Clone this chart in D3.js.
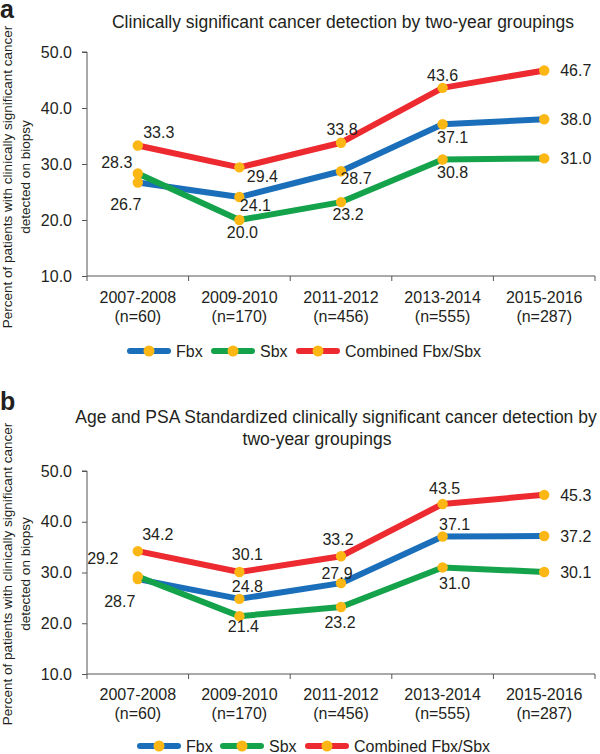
<!DOCTYPE html>
<html><head><meta charset="utf-8">
<script src="https://cdn.jsdelivr.net/npm/d3@7/dist/d3.min.js"></script>
<style>body{margin:0;background:#fff}svg{display:block;font-family:"Liberation Sans",Arial,sans-serif}</style>
</head><body><svg id="chart" width="600" height="754"></svg>
<script>
// ---- data ----
const categories = ["2007-2008","2009-2010","2011-2012","2013-2014","2015-2016"];
const sampleSizes = ["(n=60)","(n=170)","(n=456)","(n=555)","(n=287)"];
const yTicks = [10,20,30,40,50];
const seriesNames = ["Fbx","Sbx","Combined Fbx/Sbx"];
const fbxA = [26.7,24.1,28.7,37.1,38.0];
const sbxA = [28.3,20.0,23.2,30.8,31.0];
const combA = [33.3,29.4,33.8,43.6,46.7];
const fbxB = [28.7,24.8,27.9,37.1,37.2];
const sbxB = [29.2,21.4,23.2,31.0,30.1];
const combB = [34.2,30.1,33.2,43.5,45.3];
const titleA = ["Clinically significant cancer detection by two-year groupings"];
const titleB = ["Age and PSA Standardized clinically significant cancer detection by","two-year groupings"];
const yTitle = ["Percent of patients with clinically significant cancer","detected on biopsy"];

// ---- styles / layout ----
const colors = ["#1b6fba","#14a24a","#ec2a2f"];
const markerColor = "#fdb714";
const textColor = "#231f20";
const axisColor = "#555";
const FS = 16;         // tick / label font size
const FT = 17.5;       // title font size
const CAP = FS*0.358;  // baseline offset to vertical center

// label offsets (dx, dy of label center relative to point), per series, per category
const offsA = [
  [[-12,22],[16,8],[15,7],[10,13],["r",0]],
  [[-21,-11],[3,12],[7,12],[10,13],["r",0]],
  [[21,-13],[23,9],[1,-13],[0,-13],["r",0]]
];
const offsB = [
  [[-18,22],[8,-13],[-4,-10],[12,-12],["r",0]],
  [[-35,-18],[4,10],[-1,15],[12,16],["r",0]],
  [[20,-17],[8,-18],[-3,-17],[2,-16],["r",0]]
];

const svg = d3.select("#chart");

function drawPanel(o){
  const g = svg.append("g");
  const x = d3.scaleBand().domain(categories).range([87,595]);
  const y = d3.scaleLinear().domain([10,50]).range([o.yBottom,o.yTop]);

  // panel letter
  g.append("text").attr("x",0).attr("y",o.letterY).attr("font-size",25).attr("font-weight","bold")
    .attr("fill",textColor).text(o.letter);

  // title
  o.title.forEach((t,i)=>{
    g.append("text").attr("x",o.titleX[i]).attr("y",o.titleY+i*22).attr("text-anchor","middle")
      .attr("font-size",FT).attr("fill",textColor).text(t);
  });

  // y axis
  const ya = g.append("g").attr("transform","translate(87,0)")
    .call(d3.axisLeft(y).tickValues(yTicks).tickFormat(d3.format(".1f")).tickSize(5).tickPadding(10));
  ya.select(".domain").attr("stroke",axisColor).attr("d",`M-5,${y(50)}H0V${y(10)}`);
  ya.selectAll(".tick line").attr("stroke",axisColor);
  ya.selectAll(".tick text").attr("font-size",FS).attr("fill",textColor).attr("font-family","Liberation Sans, Arial, sans-serif");

  // x axis
  const xa = g.append("g").attr("transform",`translate(0,${o.yBottom})`)
    .call(d3.axisBottom(x).tickSize(0).tickFormat(""));
  xa.select(".domain").attr("stroke",axisColor).attr("d",`M87,0H595`);
  const bounds = d3.range(categories.length+1).map(i=>87 + i*x.step());
  xa.selectAll(".bt").data(bounds).join("line").attr("x1",d=>d).attr("x2",d=>d).attr("y1",0).attr("y2",5).attr("stroke",axisColor);
  categories.forEach((c,i)=>{
    const cx = x(c)+x.bandwidth()/2;
    g.append("text").attr("x",cx).attr("y",o.catY).attr("text-anchor","middle").attr("font-size",FS).attr("fill",textColor).text(c);
    g.append("text").attr("x",cx).attr("y",o.catY+19).attr("text-anchor","middle").attr("font-size",FS).attr("fill",textColor).text(sampleSizes[i]);
  });

  // y title
  yTitle.forEach((t,i)=>{
    g.append("text").attr("transform",`translate(${12+i*18},${o.yTitleY}) rotate(-90)`).attr("text-anchor","middle")
      .attr("font-size",13.5).attr("fill",textColor).text(t);
  });

  // series
  const cxF = i=>x(categories[i])+x.bandwidth()/2;
  o.series.forEach((vals,s)=>{
    const line = d3.line().x((d,i)=>cxF(i)).y(d=>y(d));
    g.append("path").datum(vals).attr("d",line).attr("fill","none").attr("stroke",colors[s])
      .attr("stroke-width",6).attr("stroke-linejoin","round");
    g.selectAll(null).data(vals).join("circle").attr("cx",(d,i)=>cxF(i)).attr("cy",d=>y(d)).attr("r",5.2).attr("fill",markerColor);
  });
  o.series.forEach((vals,s)=>{
    vals.forEach((v,i)=>{
      const off = o.offs[s][i];
      const px = cxF(i), py = y(v);
      const t = g.append("text").attr("font-size",FS).attr("fill",textColor).text(d3.format(".1f")(v));
      if(off[0]==="r"){ t.attr("x",px+16).attr("y",py+CAP).attr("text-anchor","start"); }
      else { t.attr("x",px+off[0]).attr("y",py+off[1]+CAP).attr("text-anchor","middle"); }
    });
  });

  // legend
  const lg = g.append("g");
  o.legendX.forEach((lx,s)=>{
    lg.append("line").attr("x1",lx).attr("x2",lx+38).attr("y1",o.legendY).attr("y2",o.legendY)
      .attr("stroke",colors[s]).attr("stroke-width",6).attr("stroke-linecap","round");
    lg.append("circle").attr("cx",lx+19).attr("cy",o.legendY).attr("r",5.5).attr("fill",markerColor);
    lg.append("text").attr("x",lx+46).attr("y",o.legendY+CAP).attr("font-size",FS).attr("fill",textColor).text(seriesNames[s]);
  });
}

drawPanel({letter:"a",letterY:18,title:titleA,titleX:[343],titleY:28,yTop:52,yBottom:276,catY:303,
  yTitleY:177,series:[fbxA,sbxA,combA],offs:offsA,legendX:[130,214,299],legendY:351});
drawPanel({letter:"b",letterY:410,title:titleB,titleX:[336,317],titleY:423,yTop:471,yBottom:674,catY:700,
  yTitleY:574,series:[fbxB,sbxB,combB],offs:offsB,legendX:[140,223,308],legendY:746});
</script></body></html>
